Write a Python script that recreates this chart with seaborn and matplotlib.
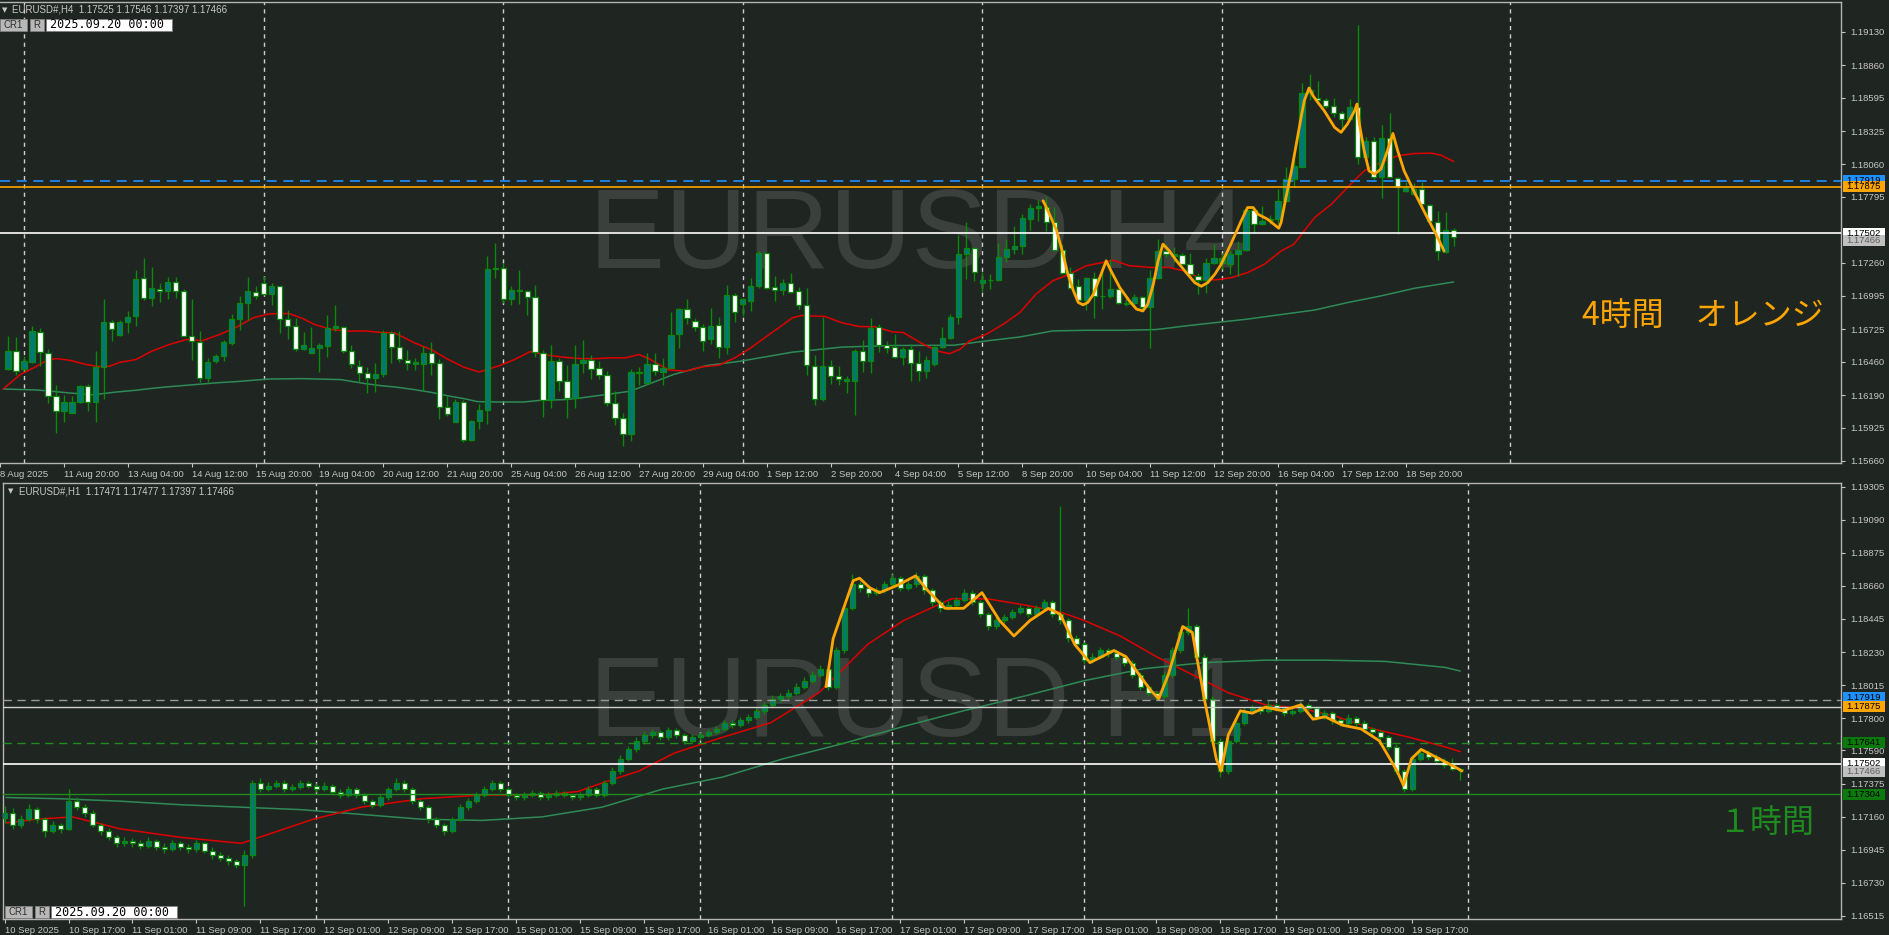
import numpy as np
import pandas as pd
import seaborn as sns
import matplotlib.pyplot as plt
from matplotlib import transforms
from matplotlib.patches import Rectangle

sns.set_theme(style="dark")
plt.rcParams['font.family'] = ['Liberation Sans', 'DejaVu Sans']

# ---- H4 panel data (bars 1..182) ----
h4_open = [1.16402, 1.16551, 1.16402, 1.16459, 1.16705, 1.16535, 1.16186, 1.16065, 1.16046, 1.16135,
           1.16267, 1.16138, 1.16416, 1.16786, 1.16678, 1.16786, 1.16834, 1.17134, 1.16980, 1.17050,
           1.17029, 1.17102, 1.17029, 1.16672, 1.16624, 1.16332, 1.16467, 1.16510, 1.16616, 1.16810,
           1.16932, 1.17026, 1.17094, 1.17005, 1.17072, 1.16810, 1.16751, 1.16564, 1.16532, 1.16573,
           1.16589, 1.16732, 1.16745, 1.16551, 1.16429, 1.16373, 1.16330, 1.16365, 1.16694, 1.16583,
           1.16478, 1.16446, 1.16446, 1.16535, 1.16454, 1.16097, 1.15973, 1.16138, 1.15827, 1.15981,
           1.16073, 1.17207, 1.17215, 1.16972, 1.17042, 1.17029, 1.16988, 1.16535, 1.16154, 1.16470,
           1.16308, 1.16170, 1.16451, 1.16478, 1.16406, 1.16357, 1.16130, 1.16006, 1.15880, 1.16370,
           1.16292, 1.16441, 1.16379, 1.16414, 1.16689, 1.16884, 1.16794, 1.16738, 1.16641, 1.16754,
           1.16576, 1.17002, 1.16929, 1.16956, 1.17070, 1.17337, 1.17062, 1.17037, 1.17094, 1.17035,
           1.16921, 1.16430, 1.16163, 1.16430, 1.16349, 1.16306, 1.16308, 1.16551, 1.16470, 1.16743,
           1.16600, 1.16580, 1.16502, 1.16567, 1.16448, 1.16386, 1.16440, 1.16580, 1.16656, 1.16826,
           1.17331, 1.17380, 1.17096, 1.17118, 1.17118, 1.17304, 1.17369, 1.17396, 1.17615, 1.17704,
           1.17714, 1.17588, 1.17366, 1.17177, 1.17075, 1.16958, 1.17137, 1.16991, 1.16991, 1.17048,
           1.16926, 1.16934, 1.16985, 1.16907, 1.17142, 1.17358, 1.17318, 1.17326, 1.17249, 1.17155,
           1.17119, 1.17260, 1.17263, 1.17254, 1.17330, 1.17362, 1.17686, 1.17573, 1.17605, 1.17614,
           1.17759, 1.17938, 1.18037, 1.18637, 1.18594, 1.18577, 1.18529, 1.18475, 1.18424, 1.18518,
           1.18118, 1.18245, 1.17951, 1.18270, 1.17946, 1.17843, 1.17821, 1.17857, 1.17730, 1.17595,
           1.17352, 1.17525]
h4_high = [1.16667, 1.16659, 1.16505, 1.16748, 1.16732, 1.16567, 1.16270, 1.16189, 1.16186, 1.16276,
           1.16281, 1.16546, 1.16967, 1.16797, 1.16797, 1.16870, 1.17202, 1.17299, 1.17226, 1.17094,
           1.17145, 1.17145, 1.17053, 1.16967, 1.16708, 1.16494, 1.16521, 1.16635, 1.16845, 1.16991,
           1.17145, 1.17072, 1.17153, 1.17094, 1.17077, 1.16878, 1.16816, 1.16699, 1.16740, 1.16613,
           1.16837, 1.16918, 1.16753, 1.16594, 1.16478, 1.16416, 1.16454, 1.16721, 1.16708, 1.16713,
           1.16554, 1.16494, 1.16586, 1.16618, 1.16486, 1.16181, 1.16159, 1.16149, 1.15987, 1.16122,
           1.17315, 1.17420, 1.17261, 1.17072, 1.17202, 1.17037, 1.17080, 1.16554, 1.16594, 1.16492,
           1.16435, 1.16600, 1.16640, 1.16519, 1.16465, 1.16384, 1.16227, 1.16050, 1.16398, 1.16419,
           1.16533, 1.16533, 1.16487, 1.16862, 1.16894, 1.16967, 1.16816, 1.16767, 1.16897, 1.16824,
           1.17078, 1.17013, 1.16973, 1.17140, 1.17356, 1.17343, 1.17151, 1.17129, 1.17175, 1.17064,
           1.17056, 1.16519, 1.16824, 1.16473, 1.16427, 1.16344, 1.16560, 1.16635, 1.16816, 1.16762,
           1.16627, 1.16683, 1.16580, 1.16602, 1.16548, 1.16508, 1.16589, 1.16742, 1.16845, 1.17488,
           1.17593, 1.17385, 1.17183, 1.17169, 1.17420, 1.17453, 1.17561, 1.17655, 1.17736, 1.17768,
           1.17798, 1.17709, 1.17412, 1.17223, 1.17131, 1.17147, 1.17183, 1.17196, 1.17291, 1.17061,
           1.16980, 1.17007, 1.16994, 1.17201, 1.17453, 1.17417, 1.17390, 1.17339, 1.17338, 1.17182,
           1.17303, 1.17411, 1.17344, 1.17357, 1.17438, 1.17708, 1.17708, 1.17722, 1.17649, 1.17857,
           1.18032, 1.18140, 1.18712, 1.18788, 1.18734, 1.18594, 1.18594, 1.18491, 1.18586, 1.19188,
           1.18280, 1.18275, 1.18378, 1.18472, 1.17951, 1.17911, 1.17905, 1.17911, 1.17740, 1.17681,
           1.17673, 1.17546]
h4_low = [1.16397, 1.16357, 1.16397, 1.16451, 1.16424, 1.16127, 1.15884, 1.15970, 1.16046, 1.16127,
          1.16060, 1.15970, 1.16159, 1.16627, 1.16667, 1.16694, 1.16748, 1.16959, 1.16910, 1.16942,
          1.16969, 1.16978, 1.16667, 1.16478, 1.16300, 1.16300, 1.16451, 1.16467, 1.16597, 1.16721,
          1.16802, 1.16969, 1.16999, 1.16921, 1.16694, 1.16645, 1.16546, 1.16554, 1.16532, 1.16375,
          1.16497, 1.16708, 1.16532, 1.16408, 1.16297, 1.16208, 1.16216, 1.16335, 1.16451, 1.16459,
          1.16392, 1.16392, 1.16230, 1.16351, 1.15997, 1.16019, 1.15973, 1.15808, 1.15817, 1.15916,
          1.15957, 1.17140, 1.16937, 1.16921, 1.16929, 1.16837, 1.16497, 1.16014, 1.16087, 1.16227,
          1.16006, 1.16087, 1.16370, 1.16321, 1.16317, 1.16106, 1.15952, 1.15780, 1.15820, 1.16271,
          1.16281, 1.16357, 1.16276, 1.16406, 1.16573, 1.16767, 1.16713, 1.16546, 1.16605, 1.16492,
          1.16524, 1.16784, 1.16830, 1.16870, 1.17059, 1.17046, 1.16954, 1.17000, 1.17019, 1.16889,
          1.16357, 1.16114, 1.16141, 1.16281, 1.16276, 1.16209, 1.16033, 1.16376, 1.16370, 1.16541,
          1.16533, 1.16494, 1.16432, 1.16305, 1.16305, 1.16332, 1.16427, 1.16575, 1.16643, 1.16764,
          1.17129, 1.17115, 1.17021, 1.17053, 1.17110, 1.17264, 1.17336, 1.17336, 1.17528, 1.17596,
          1.17520, 1.17358, 1.17169, 1.17048, 1.16953, 1.16880, 1.16818, 1.16886, 1.16980, 1.16926,
          1.16913, 1.16907, 1.16859, 1.16570, 1.17129, 1.17309, 1.17264, 1.17250, 1.17141, 1.17006,
          1.17020, 1.17249, 1.17209, 1.17168, 1.17155, 1.17357, 1.17506, 1.17568, 1.17573, 1.17573,
          1.17749, 1.17875, 1.18032, 1.18577, 1.18545, 1.18513, 1.18437, 1.18329, 1.18410, 1.18064,
          1.18100, 1.17938, 1.17789, 1.17946, 1.17497, 1.17830, 1.17811, 1.17730, 1.17573, 1.17281,
          1.17344, 1.17397]
h4_close = [1.16551, 1.16389, 1.16465, 1.16713, 1.16543, 1.16186, 1.16065, 1.16138, 1.16138, 1.16267,
            1.16138, 1.16416, 1.16786, 1.16729, 1.16786, 1.16826, 1.17126, 1.16980, 1.17061, 1.17032,
            1.17102, 1.17029, 1.16672, 1.16629, 1.16332, 1.16462, 1.16510, 1.16618, 1.16810, 1.16932,
            1.17029, 1.16996, 1.17005, 1.17077, 1.16810, 1.16753, 1.16567, 1.16600, 1.16575, 1.16594,
            1.16737, 1.16748, 1.16548, 1.16446, 1.16370, 1.16330, 1.16365, 1.16694, 1.16583, 1.16486,
            1.16454, 1.16456, 1.16535, 1.16451, 1.16095, 1.16041, 1.16138, 1.15830, 1.15984, 1.16073,
            1.17207, 1.17218, 1.16972, 1.17045, 1.17029, 1.16988, 1.16543, 1.16154, 1.16470, 1.16308,
            1.16170, 1.16446, 1.16478, 1.16405, 1.16357, 1.16130, 1.16006, 1.15880, 1.16376, 1.16379,
            1.16446, 1.16389, 1.16408, 1.16681, 1.16884, 1.16816, 1.16738, 1.16632, 1.16746, 1.16576,
            1.17002, 1.16862, 1.16965, 1.17070, 1.17337, 1.17059, 1.17040, 1.17094, 1.17027, 1.16921,
            1.16438, 1.16163, 1.16430, 1.16349, 1.16317, 1.16317, 1.16551, 1.16470, 1.16735, 1.16600,
            1.16573, 1.16502, 1.16562, 1.16448, 1.16386, 1.16478, 1.16580, 1.16656, 1.16823, 1.17331,
            1.17380, 1.17185, 1.17120, 1.17123, 1.17307, 1.17369, 1.17396, 1.17623, 1.17704, 1.17720,
            1.17593, 1.17366, 1.17177, 1.17061, 1.16958, 1.17142, 1.16994, 1.16996, 1.17048, 1.16934,
            1.16934, 1.16985, 1.16907, 1.17142, 1.17358, 1.17331, 1.17331, 1.17255, 1.17168, 1.17119,
            1.17257, 1.17303, 1.17298, 1.17330, 1.17362, 1.17686, 1.17573, 1.17600, 1.17614, 1.17759,
            1.17938, 1.18040, 1.18637, 1.18658, 1.18577, 1.18529, 1.18475, 1.18424, 1.18518, 1.18118,
            1.18245, 1.17951, 1.18270, 1.17951, 1.17875, 1.17870, 1.17854, 1.17735, 1.17600, 1.17357,
            1.17524, 1.17466]

# moving averages (bar position, price)
h4_ma_red_x = [0.4, 2.5, 4.6, 5.8, 7, 8.7, 10.8, 12.5, 13.7, 15, 17, 19, 21.2, 23.3, 25.4, 27.5, 29.6,
               31.7, 33.7, 36.2, 37.9, 39.4, 41.5, 43.5, 45.7, 47.7, 49.4, 51.9, 54, 56, 58.1, 60,
               62.3, 64.4, 66.4, 68.1, 70.6, 72.7, 74.8, 76.2, 78.3, 80, 81.2, 82.5, 83.7, 85.8, 87.9,
               90, 92, 94, 96.3, 97.5, 99.2, 100.4, 103.3, 105.4, 107.5, 109.6, 111.7, 113.1, 115.2,
               117.3, 118.9, 120.2, 121.4, 123.5, 125.6, 127.7, 129.7, 131.8, 133.9, 136, 138.1,
               139.4, 141.4, 144.3, 146.4, 148.5, 150, 152.1, 154.2, 156.2, 158.3, 160.4, 162, 163.3,
               164.6, 166.7, 168.7, 170.8, 172.9, 175, 177.1, 179.2, 180.4, 182]
h4_ma_red = [1.16240, 1.16356, 1.16424, 1.16470, 1.16486, 1.16473, 1.16438, 1.16421, 1.16424, 1.16456,
             1.16478, 1.16546, 1.16600, 1.16640, 1.16632, 1.16681, 1.16740, 1.16816, 1.16848, 1.16851,
             1.16810, 1.16762, 1.16721, 1.16708, 1.16710, 1.16697, 1.16694, 1.16613, 1.16559, 1.16483,
             1.16416, 1.16378, 1.16424, 1.16478, 1.16543, 1.16518, 1.16497, 1.16486, 1.16486, 1.16492,
             1.16492, 1.16519, 1.16487, 1.16438, 1.16395, 1.16384, 1.16419, 1.16433, 1.16492, 1.16573,
             1.16681, 1.16735, 1.16816, 1.16835, 1.16827, 1.16776, 1.16746, 1.16743, 1.16703, 1.16697,
             1.16616, 1.16548, 1.16526, 1.16562, 1.16629, 1.16683, 1.16764, 1.16859, 1.17007, 1.17115,
             1.17169, 1.17237, 1.17264, 1.17282, 1.17237, 1.17223, 1.17223, 1.17191, 1.17141, 1.17122,
             1.17141, 1.17182, 1.17249, 1.17357, 1.17411, 1.17519, 1.17627, 1.17735, 1.17870, 1.18005,
             1.18073, 1.18127, 1.18145, 1.18148, 1.18132, 1.18081]
h4_ma_green_x = [0.4, 4.6, 6.6, 8.7, 11.6, 12.9, 14.6, 17, 19.1, 21.2, 23.3, 25.4, 27.5, 29.6, 31.7,
                 33.7, 37.9, 42.7, 45.7, 47.7, 49.8, 51.9, 54, 56, 58.1, 59.8, 62.3, 65.6, 67.7, 70.6,
                 72.7, 74.8, 78.9, 84.3, 88.5, 92.7, 99.2, 105.4, 111.7, 119.4, 123.5, 127.7, 131.8,
                 136, 140.5, 144.7, 146.8, 148.5, 156, 164.6, 168.7, 172.9, 177.1, 182]
h4_ma_green = [1.16240, 1.16232, 1.16221, 1.16208, 1.16194, 1.16203, 1.16216, 1.16230, 1.16246, 1.16259,
               1.16270, 1.16281, 1.16292, 1.16300, 1.16311, 1.16321, 1.16324, 1.16316, 1.16284, 1.16267,
               1.16254, 1.16235, 1.16213, 1.16186, 1.16162, 1.16138, 1.16135, 1.16135, 1.16149, 1.16154,
               1.16168, 1.16186, 1.16222, 1.16357, 1.16430, 1.16465, 1.16538, 1.16579, 1.16592, 1.16594,
               1.16629, 1.16661, 1.16710, 1.16715, 1.16715, 1.16721, 1.16737, 1.16751, 1.16804, 1.16879,
               1.16939, 1.16993, 1.17055, 1.17106]
# orange zigzag path
h4_zz_x = [130.6, 131.4, 132.3, 133.1, 133.7, 134.4, 135.0, 135.6, 136.2, 136.9, 137.7, 138.5, 139.1,
           140.2, 141.4, 142.3, 143.1, 143.7, 144.4, 145.0, 145.6, 146.4, 147.3, 148.5, 148.7, 149.6,
           150.4, 151.2, 152.1, 152.9, 154.1, 155.4, 156.2, 156.9, 157.5, 158.7, 160.1, 160.4, 161.0,
           161.7, 162.3, 162.9, 163.3, 163.9, 164.4, 165.0, 165.8, 167.1, 167.9, 168.7, 169.6, 169.9,
           170.2, 170.8, 171.4, 172.1, 172.9, 173.7, 174.4, 175.0, 175.8, 177.1, 178.7, 179.8, 180.8]
h4_zz = [1.17763, 1.17655, 1.17520, 1.17331, 1.17169, 1.17034, 1.16940, 1.16921, 1.16940, 1.17007,
         1.17142, 1.17277, 1.17196, 1.17061, 1.16953, 1.16886, 1.16872, 1.16926, 1.17088, 1.17277,
         1.17412, 1.17358, 1.17277, 1.17183, 1.17168, 1.17100, 1.17071, 1.17100, 1.17168, 1.17249,
         1.17411, 1.17600, 1.17708, 1.17708, 1.17654, 1.17614, 1.17541, 1.17587, 1.17789, 1.18005,
         1.18221, 1.18437, 1.18572, 1.18675, 1.18612, 1.18558, 1.18491, 1.18356, 1.18316, 1.18383,
         1.18491, 1.18545, 1.18383, 1.18167, 1.18005, 1.17978, 1.18019, 1.18167, 1.18307, 1.18167,
         1.18005, 1.17830, 1.17627, 1.17492, 1.17357]

h4_xticks = ["8 Aug 2025", "11 Aug 20:00", "13 Aug 04:00", "14 Aug 12:00", "15 Aug 20:00",
             "19 Aug 04:00", "20 Aug 12:00", "21 Aug 20:00", "25 Aug 04:00", "26 Aug 12:00",
             "27 Aug 20:00", "29 Aug 04:00", "1 Sep 12:00", "2 Sep 20:00", "4 Sep 04:00",
             "5 Sep 12:00", "8 Sep 20:00", "10 Sep 04:00", "11 Sep 12:00", "12 Sep 20:00",
             "16 Sep 04:00", "17 Sep 12:00", "18 Sep 20:00"]
h4_yticks = [1.19130, 1.18860, 1.18595, 1.18325, 1.18060, 1.17795, 1.17260, 1.16995, 1.16725,
             1.16460, 1.16190, 1.15925, 1.15660]
h4_separators = [3, 33, 63, 93, 123, 153, 189]

# ---- H1 panel data (bars 0..182) ----
h1_open = [1.17150, 1.17182, 1.17104, 1.17143, 1.17206, 1.17143, 1.17065, 1.17104, 1.17080, 1.17260,
           1.17221, 1.17182, 1.17104, 1.17065, 1.17025, 1.16986, 1.17002, 1.16986, 1.16971, 1.17002,
           1.16963, 1.16947, 1.16986, 1.16963, 1.16947, 1.16986, 1.16939, 1.16908, 1.16892, 1.16869,
           1.16845, 1.16908, 1.17378, 1.17339, 1.17362, 1.17378, 1.17339, 1.17354, 1.17378, 1.17362,
           1.17339, 1.17362, 1.17323, 1.17300, 1.17339, 1.17300, 1.17260, 1.17237, 1.17284, 1.17339,
           1.17378, 1.17339, 1.17260, 1.17221, 1.17143, 1.17104, 1.17065, 1.17143, 1.17221, 1.17260,
           1.17300, 1.17339, 1.17378, 1.17339, 1.17300, 1.17284, 1.17300, 1.17315, 1.17284, 1.17300,
           1.17315, 1.17300, 1.17284, 1.17300, 1.17339, 1.17300, 1.17378, 1.17456, 1.17535, 1.17597,
           1.17652, 1.17691, 1.17707, 1.17676, 1.17723, 1.17691, 1.17652, 1.17676, 1.17691, 1.17707,
           1.17730, 1.17770, 1.17754, 1.17785, 1.17809, 1.17848, 1.17887, 1.17926, 1.17942, 1.17965,
           1.18005, 1.18044, 1.18083, 1.18122, 1.18005, 1.18240, 1.18514, 1.18670, 1.18647, 1.18616,
           1.18631, 1.18670, 1.18710, 1.18647, 1.18670, 1.18725, 1.18631, 1.18553, 1.18514, 1.18537,
           1.18569, 1.18616, 1.18553, 1.18475, 1.18396, 1.18435, 1.18459, 1.18490, 1.18514, 1.18475,
           1.18514, 1.18553, 1.18475, 1.18435, 1.18318, 1.18279, 1.18177, 1.18200, 1.18240, 1.18224,
           1.18200, 1.18161, 1.18083, 1.18005, 1.17965, 1.17942, 1.18083, 1.18240, 1.18357, 1.18396,
           1.18200, 1.17926, 1.17652, 1.17456, 1.17652, 1.17770, 1.17848, 1.17864, 1.17848, 1.17887,
           1.17864, 1.17832, 1.17848, 1.17887, 1.17864, 1.17809, 1.17832, 1.17785, 1.17770, 1.17801,
           1.17770, 1.17730, 1.17707, 1.17676, 1.17613, 1.17456, 1.17339, 1.17535, 1.17574, 1.17550,
           1.17519, 1.17495, 1.17471]
h1_high = [1.17230, 1.17215, 1.17170, 1.17240, 1.17225, 1.17160, 1.17130, 1.17120, 1.17339, 1.17290,
           1.17240, 1.17200, 1.17120, 1.17085, 1.17040, 1.17030, 1.17020, 1.17010, 1.17030, 1.17015,
           1.16990, 1.17010, 1.17000, 1.16980, 1.17005, 1.16995, 1.16960, 1.16930, 1.16910, 1.16885,
           1.16940, 1.17400, 1.17410, 1.17385, 1.17400, 1.17395, 1.17375, 1.17400, 1.17390, 1.17380,
           1.17385, 1.17375, 1.17340, 1.17360, 1.17350, 1.17315, 1.17275, 1.17300, 1.17355, 1.17410,
           1.17395, 1.17350, 1.17275, 1.17235, 1.17160, 1.17120, 1.17160, 1.17240, 1.17280, 1.17320,
           1.17360, 1.17400, 1.17390, 1.17350, 1.17315, 1.17320, 1.17335, 1.17325, 1.17320, 1.17335,
           1.17325, 1.17310, 1.17320, 1.17360, 1.17350, 1.17400, 1.17480, 1.17560, 1.17620, 1.17680,
           1.17715, 1.17730, 1.17720, 1.17745, 1.17735, 1.17705, 1.17695, 1.17710, 1.17730, 1.17750,
           1.17790, 1.17785, 1.17805, 1.17830, 1.17870, 1.17905, 1.17950, 1.17965, 1.17990, 1.18030,
           1.18065, 1.18105, 1.18145, 1.18140, 1.18265, 1.18540, 1.18740, 1.18690, 1.18660, 1.18655,
           1.18690, 1.18740, 1.18725, 1.18690, 1.18750, 1.18740, 1.18645, 1.18570, 1.18560, 1.18590,
           1.18640, 1.18630, 1.18570, 1.18490, 1.18455, 1.18480, 1.18510, 1.18535, 1.18530, 1.18535,
           1.18575, 1.18570, 1.19180, 1.18450, 1.18340, 1.18295, 1.18225, 1.18265, 1.18255, 1.18240,
           1.18215, 1.18175, 1.18100, 1.18020, 1.17985, 1.18105, 1.18265, 1.18380, 1.18514, 1.18415,
           1.18220, 1.17945, 1.17670, 1.17680, 1.17795, 1.17870, 1.17885, 1.17880, 1.17910, 1.17900,
           1.17880, 1.17870, 1.17910, 1.17900, 1.17880, 1.17850, 1.17845, 1.17800, 1.17825, 1.17815,
           1.17790, 1.17745, 1.17720, 1.17690, 1.17630, 1.17470, 1.17560, 1.17595, 1.17590, 1.17565,
           1.17540, 1.17540, 1.17477]
h1_low = [1.17120, 1.17080, 1.17085, 1.17130, 1.17120, 1.17030, 1.17050, 1.17050, 1.17070, 1.17200,
          1.17160, 1.17090, 1.17040, 1.17005, 1.16960, 1.16970, 1.16960, 1.16950, 1.16955, 1.16945,
          1.16925, 1.16935, 1.16945, 1.16920, 1.16930, 1.16920, 1.16885, 1.16870, 1.16845, 1.16825,
          1.16579, 1.16890, 1.17320, 1.17325, 1.17345, 1.17320, 1.17325, 1.17340, 1.17345, 1.17320,
          1.17325, 1.17305, 1.17280, 1.17290, 1.17280, 1.17240, 1.17215, 1.17225, 1.17270, 1.17325,
          1.17320, 1.17240, 1.17200, 1.17120, 1.17085, 1.17040, 1.17050, 1.17130, 1.17205, 1.17245,
          1.17285, 1.17325, 1.17320, 1.17285, 1.17265, 1.17270, 1.17290, 1.17265, 1.17270, 1.17290,
          1.17285, 1.17265, 1.17270, 1.17290, 1.17285, 1.17290, 1.17365, 1.17440, 1.17520, 1.17580,
          1.17635, 1.17670, 1.17655, 1.17660, 1.17670, 1.17630, 1.17640, 1.17660, 1.17680, 1.17695,
          1.17715, 1.17735, 1.17740, 1.17770, 1.17795, 1.17830, 1.17870, 1.17905, 1.17925, 1.17950,
          1.17990, 1.18030, 1.18065, 1.17985, 1.17990, 1.18225, 1.18500, 1.18620, 1.18590, 1.18600,
          1.18615, 1.18655, 1.18625, 1.18630, 1.18655, 1.18610, 1.18530, 1.18490, 1.18500, 1.18520,
          1.18555, 1.18535, 1.18455, 1.18375, 1.18380, 1.18420, 1.18445, 1.18475, 1.18455, 1.18460,
          1.18500, 1.18455, 1.18415, 1.18295, 1.18255, 1.18155, 1.18160, 1.18185, 1.18200, 1.18180,
          1.18140, 1.18060, 1.17985, 1.17945, 1.17920, 1.17930, 1.18070, 1.18225, 1.18340, 1.18180,
          1.17905, 1.17630, 1.17420, 1.17440, 1.17640, 1.17755, 1.17840, 1.17830, 1.17835, 1.17845,
          1.17815, 1.17820, 1.17835, 1.17845, 1.17790, 1.17795, 1.17765, 1.17750, 1.17755, 1.17750,
          1.17710, 1.17690, 1.17655, 1.17595, 1.17435, 1.17320, 1.17325, 1.17520, 1.17530, 1.17500,
          1.17475, 1.17460, 1.17397]
h1_close = [1.17182, 1.17104, 1.17143, 1.17206, 1.17143, 1.17065, 1.17104, 1.17080, 1.17260, 1.17221,
            1.17182, 1.17104, 1.17065, 1.17025, 1.16986, 1.17002, 1.16986, 1.16971, 1.17002, 1.16963,
            1.16947, 1.16986, 1.16963, 1.16947, 1.16986, 1.16939, 1.16908, 1.16892, 1.16869, 1.16845,
            1.16908, 1.17378, 1.17339, 1.17362, 1.17378, 1.17339, 1.17354, 1.17378, 1.17362, 1.17339,
            1.17362, 1.17323, 1.17300, 1.17339, 1.17300, 1.17260, 1.17237, 1.17284, 1.17339, 1.17378,
            1.17339, 1.17260, 1.17221, 1.17143, 1.17104, 1.17065, 1.17143, 1.17221, 1.17260, 1.17300,
            1.17339, 1.17378, 1.17339, 1.17300, 1.17284, 1.17300, 1.17315, 1.17284, 1.17300, 1.17315,
            1.17300, 1.17284, 1.17300, 1.17339, 1.17300, 1.17378, 1.17456, 1.17535, 1.17597, 1.17652,
            1.17691, 1.17707, 1.17676, 1.17723, 1.17691, 1.17652, 1.17676, 1.17691, 1.17707, 1.17730,
            1.17770, 1.17754, 1.17785, 1.17809, 1.17848, 1.17887, 1.17926, 1.17942, 1.17965, 1.18005,
            1.18044, 1.18083, 1.18122, 1.18005, 1.18240, 1.18514, 1.18670, 1.18647, 1.18616, 1.18631,
            1.18670, 1.18710, 1.18647, 1.18670, 1.18725, 1.18631, 1.18553, 1.18514, 1.18537, 1.18569,
            1.18616, 1.18553, 1.18475, 1.18396, 1.18435, 1.18459, 1.18490, 1.18514, 1.18475, 1.18514,
            1.18553, 1.18475, 1.18435, 1.18318, 1.18279, 1.18177, 1.18200, 1.18240, 1.18224, 1.18200,
            1.18161, 1.18083, 1.18005, 1.17965, 1.17942, 1.18083, 1.18240, 1.18357, 1.18396, 1.18200,
            1.17926, 1.17652, 1.17456, 1.17652, 1.17770, 1.17848, 1.17864, 1.17848, 1.17887, 1.17864,
            1.17832, 1.17848, 1.17887, 1.17864, 1.17809, 1.17832, 1.17785, 1.17770, 1.17801, 1.17770,
            1.17730, 1.17707, 1.17676, 1.17613, 1.17456, 1.17339, 1.17535, 1.17574, 1.17550, 1.17519,
            1.17495, 1.17471, 1.17466]

h1_ma_red_x = [0.2, 4.0, 8.5, 14.5, 22.0, 29.6, 34.1, 38.6, 44.6, 52.1, 59.7, 67.2, 71.7, 74.7, 79.3,
               83.8, 89.8, 95.8, 101.8, 104.9, 107.9, 112.4, 118.4, 122.9, 127.4, 132.0, 135.0, 139.5,
               144.0, 148.5, 153.0, 157.6, 162.1, 166.6, 171.1, 175.6, 180.1, 182.0]
h1_ma_red = [1.17119, 1.17143, 1.17158, 1.17080, 1.17025, 1.16986, 1.17064, 1.17143, 1.17221, 1.17276,
             1.17300, 1.17300, 1.17323, 1.17378, 1.17456, 1.17574, 1.17676, 1.17770, 1.17965, 1.18122,
             1.18279, 1.18435, 1.18576, 1.18576, 1.18537, 1.18490, 1.18435, 1.18334, 1.18200, 1.18083,
             1.17965, 1.17887, 1.17864, 1.17809, 1.17730, 1.17676, 1.17613, 1.17582]
h1_ma_green_x = [0.2, 7.0, 14.5, 22.0, 29.6, 37.1, 44.6, 52.1, 59.7, 67.2, 74.7, 82.3, 89.8, 97.3,
                 104.9, 112.4, 119.9, 127.4, 135.0, 142.5, 150.0, 157.6, 165.1, 172.6, 180.1, 182.0]
h1_ma_green = [1.17284, 1.17276, 1.17260, 1.17237, 1.17221, 1.17205, 1.17174, 1.17143, 1.17135, 1.17158,
               1.17221, 1.17339, 1.17417, 1.17535, 1.17636, 1.17746, 1.17848, 1.17942, 1.18044, 1.18122,
               1.18161, 1.18177, 1.18177, 1.18169, 1.18130, 1.18106]
h1_zz_x = [102.7, 103.6, 104.9, 106.1, 106.9, 108.2, 109.4, 111.6, 113.9, 115.4, 117.6, 119.9, 122.2,
           124.4, 126.2, 128.2, 130.5, 132.0, 133.8, 135.7, 137.2, 138.7, 140.2, 143.3, 144.3, 145.5,
           147.3, 148.5, 150.0, 151.5, 152.1, 153.0, 154.5, 156.0, 157.6, 159.8, 162.1, 163.6, 165.1,
           167.3, 169.6, 171.9, 174.1, 174.9, 175.9, 177.1, 179.4, 181.7, 182.2]
h1_zz = [1.18005, 1.18318, 1.18514, 1.18694, 1.18710, 1.18647, 1.18616, 1.18663, 1.18725, 1.18631,
         1.18514, 1.18514, 1.18616, 1.18435, 1.18334, 1.18435, 1.18514, 1.18475, 1.18279, 1.18161,
         1.18200, 1.18240, 1.18200, 1.17981, 1.17926, 1.18083, 1.18396, 1.18357, 1.17926, 1.17535,
         1.17456, 1.17691, 1.17848, 1.17832, 1.17871, 1.17848, 1.17887, 1.17793, 1.17809, 1.17754,
         1.17730, 1.17652, 1.17456, 1.17362, 1.17535, 1.17597, 1.17535, 1.17472, 1.17456]

h1_xticks = ["10 Sep 2025", "10 Sep 17:00", "11 Sep 01:00", "11 Sep 09:00", "11 Sep 17:00",
             "12 Sep 01:00", "12 Sep 09:00", "12 Sep 17:00", "15 Sep 01:00", "15 Sep 09:00",
             "15 Sep 17:00", "16 Sep 01:00", "16 Sep 09:00", "16 Sep 17:00", "17 Sep 01:00",
             "17 Sep 09:00", "17 Sep 17:00", "18 Sep 01:00", "18 Sep 09:00", "18 Sep 17:00",
             "19 Sep 01:00", "19 Sep 09:00", "19 Sep 17:00"]
h1_yticks = [1.19305, 1.19090, 1.18875, 1.18660, 1.18445, 1.18230, 1.18015, 1.17800, 1.17590,
             1.17375, 1.17160, 1.16945, 1.16730, 1.16515]
h1_separators = [39, 63, 87, 111, 135, 159, 183]

# ---- styling ----
BG = '#1f2521'
TEAL = '#007878'
EDGE = '#0a8a0a'
AXC = '#c8c8c8'
FS = 6.8
W, H = 1889, 935


def rect(x0, y0, x1, y1):
    return [x0 / W, 1 - y1 / H, (x1 - x0) / W, (y1 - y0) / H]


fig = plt.figure(figsize=(W / 100, H / 100), dpi=100, facecolor=BG)
ax1 = fig.add_axes(rect(0, 1.7, 1841, 462.7))
ax2 = fig.add_axes(rect(3, 483, 1841, 919.3))


def style_axes(ax, ylim, xlim, yticks, xticks, left_spine):
    ax.set_facecolor(BG)
    ax.grid(False)
    ax.set_ylim(*ylim)
    ax.set_xlim(*xlim)
    for s in ax.spines.values():
        s.set_color('#b4b4b4')
        s.set_linewidth(1)
    ax.spines['left'].set_visible(left_spine)
    ax.yaxis.tick_right()
    ax.set_yticks(yticks)
    ax.set_yticklabels([f"{v:.5f}" for v in yticks])
    ax.set_xticks(np.arange(len(xticks)) * 8)
    ax.set_xticklabels(xticks, ha='left')
    ax.tick_params(axis='both', colors=AXC, labelsize=FS, length=3, width=0.8,
                   direction='out', pad=2, bottom=True, right=True)
    ax.tick_params(axis='y', pad=4)
    ax.set_xlabel('')
    ax.set_ylabel('')


def candles(ax, o, h, l, c, start):
    o, h, l, c = map(np.asarray, (o, h, l, c))
    x = np.arange(start, start + len(o))
    up = c >= o
    ax.vlines(x, l, h, color=EDGE, lw=1, zorder=3)
    body = np.maximum(np.abs(c - o), 0.00002)
    ax.bar(x[up], body[up], bottom=o[up], width=0.66, color=TEAL,
           edgecolor=EDGE, linewidth=0.9, zorder=4)
    ax.bar(x[~up], body[~up], bottom=c[~up], width=0.66, color='white',
           edgecolor=EDGE, linewidth=0.9, zorder=4)


def price_tag(ax, price, text, fc, tc, ypx_per_unit):
    tr = transforms.blended_transform_factory(ax.transAxes, ax.transData)
    bb = ax.get_position()
    ax_w = bb.width * W
    hh = 5.5 / ypx_per_unit
    ax.add_patch(Rectangle(((1843 - bb.x0 * W) / ax_w, price - hh), 42 / ax_w, 2 * hh,
                           transform=tr, fc=fc, ec='none', clip_on=False, zorder=20))
    ax.text((1846 - bb.x0 * W) / ax_w, price, text, transform=tr, ha='left', va='center',
            fontsize=FS, color=tc, clip_on=False, zorder=21)


# ---- top H4 panel ----
ylim1 = (1.15644, 1.19373)
style_axes(ax1, ylim1, (0.4, 230.5), h4_yticks, h4_xticks, False)
for s in h4_separators:
    ax1.axvline(s, color='#cfcfcf', lw=1, ls=(0, (3, 3)), zorder=1)
ax1.text(0.4987, 0.486, "EURUSD H4", transform=ax1.transAxes, ha='center', va='center',
         fontsize=82, color='#3b403d', zorder=0.5)
sns.lineplot(x=h4_ma_green_x, y=h4_ma_green, ax=ax1, color='#2e8b57', lw=1.1, zorder=2)
sns.lineplot(x=h4_ma_red_x, y=h4_ma_red, ax=ax1, color='#e00000', lw=1.1, zorder=2)
candles(ax1, h4_open, h4_high, h4_low, h4_close, 1)
ax1.axhline(1.17919, color='#1e90ff', lw=1.2, ls=(0, (6, 4)), zorder=5)
ax1.axhline(1.17875, color='#ffa500', lw=1.2, zorder=5)
ax1.axhline(1.17502, color='white', lw=1.2, zorder=5)
sns.lineplot(x=h4_zz_x, y=h4_zz, ax=ax1, color='#ffa500', lw=2, zorder=6, sort=False)
ppu1 = 461 / (ylim1[1] - ylim1[0])
price_tag(ax1, 1.17930, "1.17919", '#1e90ff', 'black', ppu1)
price_tag(ax1, 1.17875, "1.17875", '#ffa500', 'black', ppu1)
price_tag(ax1, 1.17502, "1.17502", 'white', 'black', ppu1)
price_tag(ax1, 1.17440, "1.17466", '#c0c0c0', '#606060', ppu1)

# ---- bottom H1 panel ----
ylim2 = (1.16492, 1.19329)
style_axes(ax2, ylim2, (-0.19, 229.6), h1_yticks, h1_xticks, True)
for s in h1_separators:
    ax2.axvline(s, color='#cfcfcf', lw=1, ls=(0, (3, 3)), zorder=1)
ax2.text(0.498, 0.486, "EURUSD H1", transform=ax2.transAxes, ha='center', va='center',
         fontsize=82, color='#3b403d', zorder=0.5)
sns.lineplot(x=h1_ma_green_x, y=h1_ma_green, ax=ax2, color='#2e8b57', lw=1.1, zorder=2)
sns.lineplot(x=h1_ma_red_x, y=h1_ma_red, ax=ax2, color='#e00000', lw=1.1, zorder=2)
candles(ax2, h1_open, h1_high, h1_low, h1_close, 0)
ax2.axhline(1.17919, color='#9a9a9a', lw=1, ls=(0, (6, 4)), zorder=5)
ax2.axhline(1.17875, color='#d0d0d0', lw=1, zorder=5)
ax2.axhline(1.17641, color='#1e8c1e', lw=1, ls=(0, (6, 4)), zorder=5)
ax2.axhline(1.17502, color='white', lw=1.2, zorder=5)
ax2.axhline(1.17304, color='#1e8c1e', lw=1, zorder=5)
sns.lineplot(x=h1_zz_x, y=h1_zz, ax=ax2, color='#ffa500', lw=2, zorder=6, sort=False)
ppu2 = 436.3 / (ylim2[1] - ylim2[0])
price_tag(ax2, 1.17935, "1.17919", '#1e90ff', 'black', ppu2)
price_tag(ax2, 1.17875, "1.17875", '#ffa500', 'black', ppu2)
price_tag(ax2, 1.17641, "1.17641", '#0a7a0a', 'black', ppu2)
price_tag(ax2, 1.17502, "1.17502", 'white', 'black', ppu2)
price_tag(ax2, 1.17450, "1.17466", '#c0c0c0', '#606060', ppu2)
price_tag(ax2, 1.17304, "1.17304", '#0a7a0a', 'black', ppu2)

# ---- headers, buttons, annotations ----
fig.text(2 / W, 1 - 10 / H, "\u25bc", color=AXC, fontsize=5, va='center', family='DejaVu Sans')
fig.text(12 / W, 1 - 10 / H, "EURUSD#,H4  1.17525 1.17546 1.17397 1.17466", color=AXC,
         fontsize=7, va='center')
fig.text(8 / W, 1 - 491 / H, "\u25bc", color=AXC, fontsize=5, va='center', family='DejaVu Sans')
fig.text(19 / W, 1 - 491 / H, "EURUSD#,H1  1.17471 1.17477 1.17397 1.17466", color=AXC,
         fontsize=7, va='center')


def buttons(x0, y0):
    for (a, b, txt, fc) in [(0, 27, "CR1", '#b8b8b8'), (30, 44, "R", '#b8b8b8'),
                             (46, 172, "2025.09.20 00:00", 'white')]:
        fig.patches.append(Rectangle(((x0 + a) / W, 1 - (y0 + 12) / H), (b - a) / W, 12 / H,
                                     transform=fig.transFigure, fc=fc, ec='#808080', lw=0.6))
        if txt.startswith('2025'):
            fig.text((x0 + a + 4) / W, 1 - (y0 + 6) / H, txt, fontsize=8.5, va='center',
                     color='black', family='DejaVu Sans Mono')
        else:
            fig.text((x0 + (a + b) / 2) / W, 1 - (y0 + 6) / H, txt, fontsize=7, va='center',
                     ha='center', color='#303030')


buttons(0, 19)
buttons(5, 906)

fig.text(1582 / W, 1 - 316 / H, "4時間\u3000オレンジ", color='#ffa500', fontsize=23, va='center',
         family=['Noto Sans CJK JP', 'DejaVu Sans'])
fig.text(1718 / W, 1 - 823 / H, "１時間", color='#1e8c1e', fontsize=23, va='center',
         family=['Noto Sans CJK JP', 'DejaVu Sans'])

fig.savefig("out.png", dpi=100, facecolor=BG)
